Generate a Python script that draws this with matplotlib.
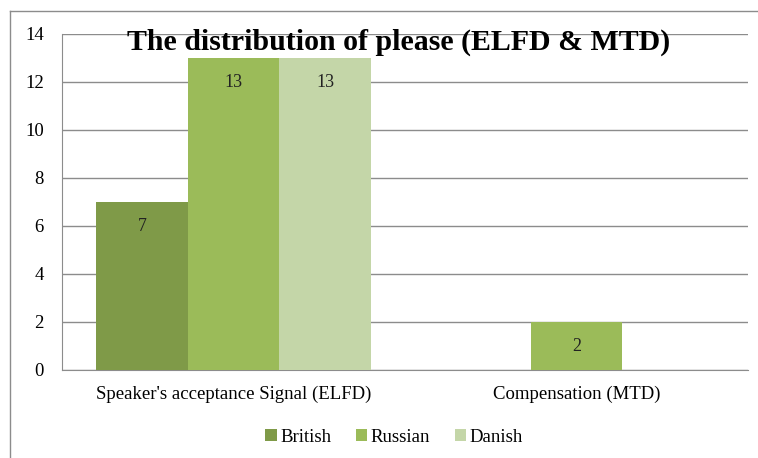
import matplotlib.pyplot as plt
from matplotlib.lines import Line2D
import numpy as np

categories = ["Speaker's acceptance Signal (ELFD)", "Compensation (MTD)"]
series = ["British", "Russian", "Danish"]
british = [7, 0]
russian = [13, 2]
danish = [13, 0]
colors = ["#7F9A48", "#9BBB59", "#C4D6A8"]

plt.rcParams['font.family'] = ['Liberation Serif', 'DejaVu Serif']

fig = plt.figure(figsize=(7.58, 4.58), dpi=100)
ax = fig.add_axes([62/758, 88/458, 686/758, 336/458])

x = np.arange(len(categories))
w = 0.267
for i, (name, vals) in enumerate(zip(series, [british, russian, danish])):
    bars = ax.bar(x + (i - 1) * w, vals, width=w, color=colors[i], label=name, zorder=3)
    labels = [str(v) if v else "" for v in vals]
    ax.bar_label(bars, labels=labels, padding=-24, fontsize=13, color="#222222")

ax.set_xlim(-0.5, 1.5)
ax.set_ylim(0, 14)
ax.set_yticks(range(0, 15, 2))
ax.set_xticks(x)
ax.set_xticklabels(categories)
ax.tick_params(axis='y', length=0, pad=13, labelsize=13.5)
ax.tick_params(axis='x', length=0, pad=11, labelsize=13.5)
ax.grid(axis='y', color='#8c8c8c', linewidth=1, zorder=0)
for s in ['top', 'right']:
    ax.spines[s].set_visible(False)
ax.spines['left'].set_color('#8c8c8c')
ax.spines['bottom'].set_color('#8c8c8c')

fig.text(399/758, 1 - 42/458, "The distribution of please (ELFD & MTD)",
         ha='center', va='center', fontsize=21.5, fontweight='bold', zorder=5)

ax.legend(loc='center', bbox_to_anchor=(394/758, 21/458), bbox_transform=fig.transFigure,
          ncol=3, frameon=False, fontsize=13.5, handlelength=0.6, handleheight=0.6,
          handletextpad=0.2, columnspacing=1.3)

# outer chart frame (top and left edges visible)
fig.add_artist(Line2D([10/758, 1], [1 - 11/458, 1 - 11/458], transform=fig.transFigure, color='#8c8c8c', lw=1))
fig.add_artist(Line2D([10/758, 10/758], [0, 1 - 11/458], transform=fig.transFigure, color='#8c8c8c', lw=1))

fig.savefig("out.png", dpi=100)
